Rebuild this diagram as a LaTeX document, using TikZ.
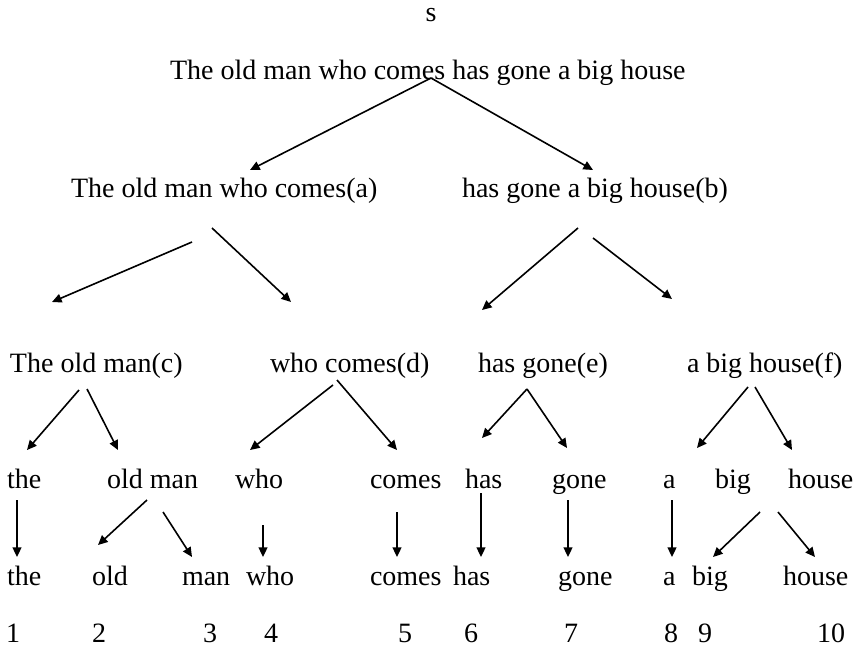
\documentclass[tikz,border=0pt]{standalone}
\usepackage{fontspec}
\setmainfont{Liberation Serif}
\usetikzlibrary{arrows.meta}
\begin{document}
\begin{tikzpicture}[x=0.5pt,y=-0.5pt,
  word/.style={anchor=base west,inner sep=0pt,outer sep=0pt,font=\fontsize{14}{16}\selectfont},
  num/.style={anchor=base,inner sep=0pt,outer sep=0pt,font=\fontsize{14}{16}\selectfont},
  arr/.style={-{Triangle[length=4.8pt,width=4.4pt]},line width=0.8pt}]
\useasboundingbox (0,0) rectangle (861,653);

% sentence and its two constituents
\node[num]  (s)    at (431,21)  {s};
\node[word] (root) at (170,79)  {The old man who comes has gone a big house};
\node[word] (a)    at (71,197)  {The old man who comes(a)};
\node[word] (b)    at (462,197) {has gone a big house(b)};

% phrases
\node[word] (c) at (10,372)  {The old man(c)};
\node[word] (d) at (270,372) {who comes(d)};
\node[word] (e) at (478,372) {has gone(e)};
\node[word] (f) at (687,372) {a big house(f)};

% words
\node[word] (w1) at (7,488)   {the};
\node[word] (w2) at (107,488) {old man};
\node[word] (w3) at (235,488) {who};
\node[word] (w4) at (370,488) {comes};
\node[word] (w5) at (465,488) {has};
\node[word] (w6) at (552,488) {gone};
\node[word] (w7) at (663,488) {a};
\node[word] (w8) at (715,488) {big};
\node[word] (w9) at (788,488) {house};

% single words
\node[word] (l1)  at (7,585)   {the};
\node[word] (l2)  at (92,585)  {old};
\node[word] (l3)  at (182,585) {man};
\node[word] (l4)  at (246,585) {who};
\node[word] (l5)  at (370,585) {comes};
\node[word] (l6)  at (453,585) {has};
\node[word] (l7)  at (558,585) {gone};
\node[word] (l8)  at (663,585) {a};
\node[word] (l9)  at (692,585) {big};
\node[word] (l10) at (783,585) {house};

% positions
\node[num] (n1)  at (13,642)  {1};
\node[num] (n2)  at (99,642)  {2};
\node[num] (n3)  at (210,642) {3};
\node[num] (n4)  at (271,642) {4};
\node[num] (n5)  at (405,642) {5};
\node[num] (n6)  at (471,642) {6};
\node[num] (n7)  at (571,642) {7};
\node[num] (n8)  at (671,642) {8};
\node[num] (n9)  at (705,642) {9};
\node[num] (n10) at (831,642) {10};

% arrow end points
\coordinate (root-o)  at (431,78);
\coordinate (a-i)     at (250,170);
\coordinate (b-i)     at (593,170);
\coordinate (a-o1)    at (192,242);
\coordinate (a-o2)    at (212,228);
\coordinate (c-i)     at (52,302);
\coordinate (d-i)     at (291,302);
\coordinate (b-o1)    at (578,228);
\coordinate (b-o2)    at (593,238);
\coordinate (e-i)     at (482,310);
\coordinate (f-i)     at (672,299);
\coordinate (c-o1)    at (79,390);
\coordinate (c-o2)    at (87,389);
\coordinate (w1-i)    at (27,450);
\coordinate (w2-i)    at (118,450);
\coordinate (d-o1)    at (333,385);
\coordinate (d-o2)    at (337,380);
\coordinate (w3-i)    at (250,450);
\coordinate (w4-i)    at (397,450);
\coordinate (e-o)     at (527,389);
\coordinate (w5-i)    at (482,438);
\coordinate (w6-i)    at (567,448);
\coordinate (f-o1)    at (748,387);
\coordinate (f-o2)    at (755,387);
\coordinate (w7-i)    at (697,448);
\coordinate (w9-i)    at (792,450);
\coordinate (w1-o)    at (17,500);
\coordinate (l1-i)    at (17,557);
\coordinate (w2-o1)   at (147,500);
\coordinate (w2-o2)   at (163,512);
\coordinate (l2-i)    at (98,545);
\coordinate (l3-i)    at (192,557);
\coordinate (w3-o)    at (263,525);
\coordinate (l4-i)    at (263,557);
\coordinate (w4-o)    at (397,512);
\coordinate (l5-i)    at (397,557);
\coordinate (w5-o)    at (481,493);
\coordinate (l6-i)    at (481,557);
\coordinate (w6-o)    at (568,500);
\coordinate (l7-i)    at (568,557);
\coordinate (w7-o)    at (672,500);
\coordinate (l8-i)    at (672,557);
\coordinate (w9-o1)   at (760,512);
\coordinate (w9-o2)   at (778,512);
\coordinate (l9-i)    at (713,557);
\coordinate (l10-i)   at (815,557);

% tree edges
\draw[arr] (root-o) -- (a-i);
\draw[arr] (root-o) -- (b-i);
\draw[arr] (a-o1) -- (c-i);
\draw[arr] (a-o2) -- (d-i);
\draw[arr] (b-o1) -- (e-i);
\draw[arr] (b-o2) -- (f-i);
\draw[arr] (c-o1) -- (w1-i);
\draw[arr] (c-o2) -- (w2-i);
\draw[arr] (d-o1) -- (w3-i);
\draw[arr] (d-o2) -- (w4-i);
\draw[arr] (e-o) -- (w5-i);
\draw[arr] (e-o) -- (w6-i);
\draw[arr] (f-o1) -- (w7-i);
\draw[arr] (f-o2) -- (w9-i);
\draw[arr] (w1-o) -- (l1-i);
\draw[arr] (w2-o1) -- (l2-i);
\draw[arr] (w2-o2) -- (l3-i);
\draw[arr] (w3-o) -- (l4-i);
\draw[arr] (w4-o) -- (l5-i);
\draw[arr] (w5-o) -- (l6-i);
\draw[arr] (w6-o) -- (l7-i);
\draw[arr] (w7-o) -- (l8-i);
\draw[arr] (w9-o1) -- (l9-i);
\draw[arr] (w9-o2) -- (l10-i);
\end{tikzpicture}
\end{document}
